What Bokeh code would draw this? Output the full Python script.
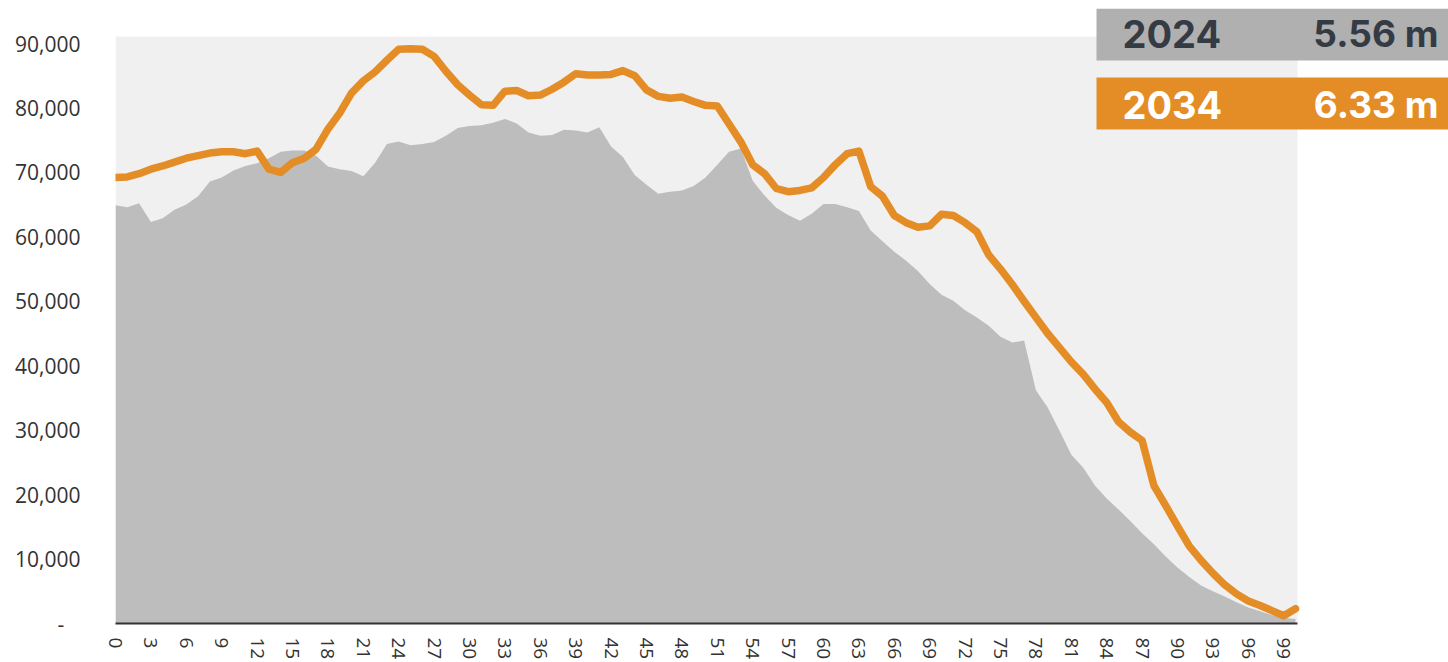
from bokeh.plotting import figure
from bokeh.models import Range1d, FixedTicker, NumeralTickFormatter, BoxAnnotation, Label, ColumnDataSource
from bokeh.embed import file_html
from bokeh.resources import INLINE

# ---- data ----
ages = list(range(0, 101))
pop_2024 = [
    64900, 64600, 65200, 62300, 62900, 64200, 65000, 66300, 68600, 69200,
    70300, 71000, 71400, 72200, 73200, 73400, 73400, 72600, 70900, 70500,
    70200, 69400, 71500, 74400, 74800, 74200, 74400, 74700, 75700, 76900,
    77200, 77300, 77700, 78300, 77600, 76200, 75700, 75800, 76600, 76500,
    76200, 77000, 74000, 72400, 69600, 68100, 66700, 67000, 67200, 67900,
    69200, 71200, 73200, 73700, 68700, 66400, 64500, 63400, 62500, 63600,
    65100, 65100, 64600, 64000, 61000, 59300, 57700, 56300, 54700, 52700,
    51000, 50100, 48600, 47500, 46200, 44500, 43600, 43900, 36200, 33500,
    29900, 26200, 24200, 21400, 19400, 17700, 15900, 14000, 12300, 10400,
    8700, 7200, 5900, 5000, 4200, 3300, 2500, 1900, 1300, 900,
    700,
]
pop_2034 = [
    69200, 69300, 69800, 70500, 71000, 71600, 72200, 72600, 73000, 73200,
    73200, 72900, 73300, 70500, 70000, 71500, 72200, 73600, 76700, 79200,
    82300, 84200, 85600, 87400, 89100, 89200, 89100, 88000, 85700, 83600,
    82000, 80500, 80400, 82600, 82700, 81900, 82000, 82900, 84000, 85300,
    85100, 85100, 85200, 85800, 85000, 82800, 81800, 81500, 81700, 81000,
    80400, 80300, 77500, 74700, 71200, 69800, 67500, 67000, 67200, 67600,
    69200, 71200, 72900, 73300, 67800, 66300, 63300, 62200, 61500, 61700,
    63500, 63300, 62200, 60800, 57200, 55000, 52600, 50000, 47500, 45000,
    42800, 40600, 38700, 36400, 34300, 31300, 29700, 28400, 21400, 18300,
    15100, 12000, 9800, 7800, 6000, 4600, 3500, 2800, 2000, 1200,
    2300,
]
x_ticks = list(range(0, 100, 3))
y_ticks = list(range(0, 90001, 10000))
legend_years = ["2024", "2034"]
legend_totals = ["5.56 m", "6.33 m"]

# ---- layout helpers (canvas pixel -> data) ----
W, H = 1448, 662
FRAME_L, FRAME_R, FRAME_T, FRAME_B = 115, 1448, 8, 623
PX_PER_YEAR = 11.8
PX_PER_UNIT = 580 / 90000


def xd(px):
    return (px - FRAME_L) / PX_PER_YEAR


def yd(py):
    return (FRAME_B - py) / PX_PER_UNIT


ORANGE = "#e48d26"

p = figure(width=W, height=H, output_backend="svg", toolbar_location=None,
           x_range=Range1d(0, xd(FRAME_R)), y_range=Range1d(0, yd(FRAME_T)),
           min_border_left=FRAME_L, min_border_right=W - FRAME_R, min_border_top=FRAME_T,
           min_border_bottom=H - FRAME_B)
p.outline_line_color = None
p.xgrid.grid_line_color = None
p.ygrid.grid_line_color = None
p.background_fill_color = "white"
p.border_fill_color = "white"

# plot-area background
p.add_layout(BoxAnnotation(left=0, right=xd(1297), bottom=0, top=yd(36),
                           fill_color="#f0f0f0", fill_alpha=1, line_color=None,
                           level="underlay"))

src = ColumnDataSource(dict(age=ages, p24=pop_2024, p34=pop_2034))
p.varea(x="age", y1=0, y2="p24", source=src, fill_color="#bdbdbd")
p.line(x="age", y="p34", source=src, line_color=ORANGE, line_width=7.5,
       line_join="round", line_cap="round")

# axes
xa = p.xaxis[0]
xa.ticker = FixedTicker(ticks=x_ticks)
xa.bounds = (xd(109), xd(1297))
xa.axis_line_color = "#333333"
xa.axis_line_width = 2
xa.major_tick_line_color = None
xa.minor_tick_line_color = None
xa.major_tick_out = 0
xa.major_tick_in = 0
xa.major_label_orientation = "vertical"
xa.major_label_standoff = 14
xa.major_label_text_font = "Open Sans"
xa.major_label_text_font_size = "19px"
xa.major_label_text_color = "#333333"

ya = p.yaxis[0]
ya.ticker = FixedTicker(ticks=y_ticks)
ya.formatter = NumeralTickFormatter(format="0,0")
ya.major_label_overrides = {0: "-\u00a0\u00a0\u00a0"}
ya.axis_line_color = None
ya.major_tick_line_color = None
ya.minor_tick_line_color = None
ya.major_tick_out = 0
ya.major_tick_in = 0
ya.major_label_standoff = 35
ya.major_label_text_font = "Open Sans"
ya.major_label_text_font_size = "21px"
ya.major_label_text_color = "#333333"

# legend boxes
p.add_layout(BoxAnnotation(left=xd(1096), right=None, bottom=yd(60), top=None,
                           fill_color="#b0b0b0", fill_alpha=1, line_color=None))
p.add_layout(BoxAnnotation(left=xd(1096), right=None, bottom=yd(129), top=yd(77),
                           fill_color=ORANGE, fill_alpha=1, line_color=None))

for yr, tot, mid, col in [(legend_years[0], legend_totals[0], 33, "#353b45"),
                          (legend_years[1], legend_totals[1], 104, "white")]:
    p.add_layout(Label(x=xd(1122), y=yd(mid), text=yr, text_font="Inter",
                       text_font_style="bold", text_font_size="38px",
                       text_color=col, text_baseline="middle"))
    p.add_layout(Label(x=xd(1438), y=yd(mid), text=tot, text_font="Inter",
                       text_font_style="bold", text_font_size="37px",
                       text_color=col, text_baseline="middle", text_align="right"))

open("out.html", "w").write(file_html(p, INLINE))
